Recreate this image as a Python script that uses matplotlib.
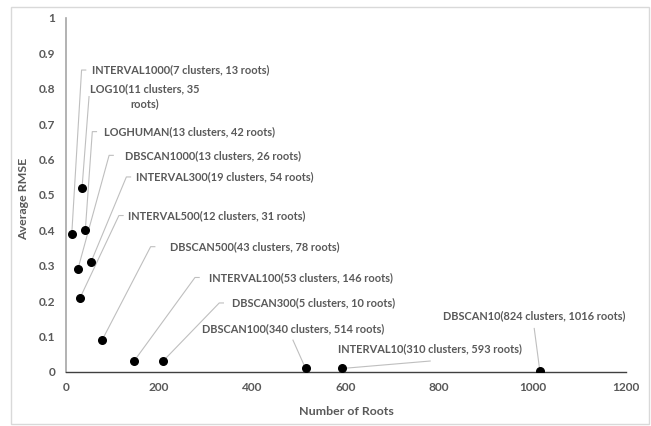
import matplotlib.pyplot as plt
from matplotlib.patches import Rectangle

# 聚类方案：根节点数量 vs 平均 RMSE
names = [
    "INTERVAL1000(7 clusters, 13 roots)",
    "LOG10(11 clusters, 35\nroots)",
    "LOGHUMAN(13 clusters, 42 roots)",
    "DBSCAN1000(13 clusters, 26 roots)",
    "INTERVAL300(19 clusters, 54 roots)",
    "INTERVAL500(12 clusters, 31 roots)",
    "DBSCAN500(43 clusters, 78 roots)",
    "INTERVAL100(53 clusters, 146 roots)",
    "DBSCAN300(5 clusters, 10 roots)",
    "DBSCAN100(340 clusters, 514 roots)",
    "INTERVAL10(310 clusters, 593 roots)",
    "DBSCAN10(824 clusters, 1016 roots)",
]
roots = [13, 35, 42, 26, 54, 31, 78, 146, 208, 514, 593, 1016]
rmse = [0.39, 0.52, 0.40, 0.29, 0.31, 0.21, 0.09, 0.03, 0.03, 0.01, 0.01, 0.003]

# 标签摆放：(x, y, 对齐方式, 引线起点 x, 引线起点 y)
label_pos = [
    (56, 0.853, "left", 43, 0.853),
    (170, 0.778, "center", 50, 0.778),
    (82, 0.679, "left", 66, 0.679),
    (127, 0.612, "left", 102, 0.612),
    (150, 0.551, "left", 139, 0.551),
    (134, 0.442, "left", 123, 0.442),
    (223, 0.354, "left", 191, 0.354),
    (308, 0.267, "left", 286, 0.267),
    (356, 0.195, "left", 338, 0.195),
    (487, 0.123, "center", 487, 0.090),
    (781, 0.065, "center", 781, 0.031),
    (1004, 0.159, "center", 1004, 0.123),
]

text_color = "#595959"
line_color = "#bfbfbf"
plt.rcParams["font.family"] = ["Lato", "DejaVu Sans"]

fig = plt.figure(figsize=(6.51, 4.26), dpi=100)
fig.patches.append(Rectangle((11 / 651, 1 - 424 / 426), 638 / 651, 417 / 426,
                             transform=fig.transFigure, fill=False,
                             edgecolor="#d9d9d9", linewidth=1))
ax = fig.add_axes([65.7 / 651, 1 - 372 / 426, 560 / 651, 354 / 426])

for (lx, ly, ha, sx, sy), name, x, y in zip(label_pos, names, roots, rmse):
    if ha == "left":
        # 短水平段 + 斜引线
        ax.plot([sx, sx - 9, x], [sy, sy, y], color=line_color, lw=0.8, zorder=1)
    else:
        ax.plot([sx, x], [sy, y], color=line_color, lw=0.8, zorder=1)
    ax.text(lx, ly, name, ha=ha, va="center", fontsize=7.9, fontweight="bold",
            color=text_color, multialignment="center", linespacing=1.45)

ax.scatter(roots, rmse, s=30, color="black", zorder=3)

ax.set_xlim(0, 1200)
ax.set_ylim(0, 1)
ax.set_xticks(range(0, 1201, 200))
ax.set_yticks([i / 10 for i in range(11)])
ax.set_yticklabels(["0", "0.1", "0.2", "0.3", "0.4", "0.5", "0.6", "0.7", "0.8", "0.9", "1"])
ax.tick_params(length=0, labelsize=8.6, labelcolor=text_color)
ax.tick_params(axis="y", pad=7.5)
ax.tick_params(axis="x", pad=7.5)
for lab in ax.get_xticklabels() + ax.get_yticklabels():
    lab.set_fontweight("bold")

for side in ["top", "right"]:
    ax.spines[side].set_visible(False)
ax.spines["left"].set_color("#a6a6a6")
ax.spines["left"].set_linewidth(1.2)
ax.spines["bottom"].set_color("#404040")
ax.spines["bottom"].set_linewidth(1.0)

ax.set_xlabel("Number of Roots", fontsize=8.9, fontweight="bold", color=text_color)
ax.set_ylabel("Average RMSE", fontsize=8.9, fontweight="bold", color=text_color)
ax.xaxis.set_label_coords(0.501, -0.096)
ax.yaxis.set_label_coords(-0.065, 0.49)

fig.savefig("out.png", dpi=100)
